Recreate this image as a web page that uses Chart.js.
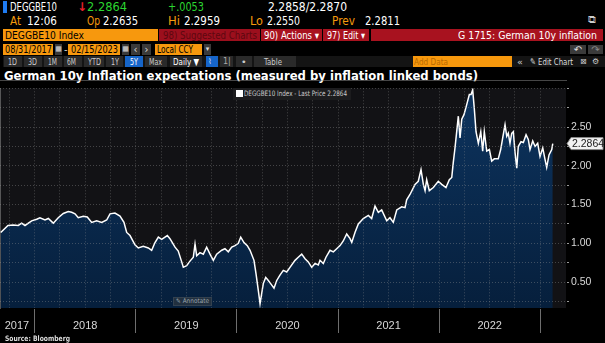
<!DOCTYPE html>
<html>
<head>
<meta charset="utf-8">
<title>DEGGBE10 Index</title>
<script src="https://cdn.jsdelivr.net/npm/chart.js@4.4.1/dist/chart.umd.min.js"></script>
<style>
  body { margin: 0; background: #000; }
  #page { position: relative; width: 605px; height: 343px; overflow: hidden; background: #000;
          font-family: "DejaVu Sans", sans-serif; color: #fff; }
  #page div, #page span { position: absolute; white-space: nowrap; }
  .fit { transform-origin: 0 50%; }
  .r1 { top: 1px; height: 12px; line-height: 12px; font-size: 12px; }
  .r2 { top: 15px; height: 12px; line-height: 12px; font-size: 12px; }
  .r3 { top: 29px; height: 12px; line-height: 12px; font-size: 10.5px; }
  .r4 { top: 44px; height: 11px; line-height: 11px; font-size: 10px; }
  .r5 { top: 56px; height: 11px; line-height: 11px; font-size: 9.5px; }
  .org { color: #f59a0c; }
  .grn { color: #2bd531; }
  .obox { background: #f7980d; color: #000; }
  .rbox { background: #a8121f; }
  .gbtn { background: #3a3a3a; color: #ddd; text-align: center; }
  .btn { background: #2a2a2a; }
  .blue { background: #1665c9; }
  #wrap { left: 0; top: 80px; width: 605px; height: 263px; }
</style>
</head>
<body>
<div id="page">
  <!-- quote line -->
  <div style="left:3px;top:1px;width:4px;height:12px;background:#1f7cf2"></div>
  <span class="r1 fit" data-w="47" style="left:10px">DEGGBE10</span>
  <span class="r1" style="left:77px;color:#e8202a;font-weight:bold">↓</span>
  <span class="r1 fit grn" data-w="40" style="left:87px" id="lastHdr"></span>
  <span class="r1 fit grn" data-w="36" style="left:168px">+.0053</span>
  <span class="r1 fit" data-w="79" style="left:268px">2.2858/2.2870</span>

  <span class="r2 fit org" data-w="11" style="left:10px">At</span>
  <span class="r2 fit" data-w="30" style="left:27px">12:06</span>
  <span class="r2 fit org" data-w="13" style="left:87px">Op</span>
  <span class="r2 fit" data-w="35" style="left:103px">2.2635</span>
  <span class="r2 fit org" data-w="12" style="left:168px">Hi</span>
  <span class="r2 fit" data-w="36" style="left:184px">2.2959</span>
  <span class="r2 fit org" data-w="13" style="left:250px">Lo</span>
  <span class="r2 fit" data-w="33" style="left:267px">2.2550</span>
  <span class="r2 fit org" data-w="23" style="left:332px">Prev</span>
  <span class="r2 fit" data-w="35" style="left:365px">2.2811</span>
  <span class="r2" style="left:588px;top:14px;font-size:11px;color:#ccc">⧉</span>

  <!-- security / menu line -->
  <div class="r3 obox" style="left:3px;width:155px"></div>
  <span class="r3 fit" data-w="79" style="left:5px;color:#000">DEGGBE10 Index</span>
  <div class="r3" style="left:159px;width:101px;background:#9c0f1d"></div>
  <span class="r3 fit" data-w="94" style="left:163px;color:#5c0810">98) Suggested Charts</span>
  <div class="r3 rbox" style="left:261px;width:61px"></div>
  <span class="r3 fit" data-w="55" style="left:264px">90) Actions ▾</span>
  <div class="r3 rbox" style="left:323px;width:46px"></div>
  <span class="r3 fit" data-w="38" style="left:327px">97) Edit ▾</span>
  <div class="r3 rbox" style="left:371px;width:232px"></div>
  <span class="r3 fit" data-w="139" style="left:458px">G 1715: German 10y inflation</span>

  <!-- date range line -->
  <div class="r4 obox" style="left:3px;width:50px"></div>
  <span class="r4 fit" data-w="47" style="left:5px;color:#000">08/31/2017</span>
  <div class="r4 gbtn" style="left:55px;width:7px;font-size:7px">▦</div>
  <span class="r4" style="left:64px;color:#ccc">-</span>
  <div class="r4 obox" style="left:68px;width:52px"></div>
  <span class="r4 fit" data-w="47" style="left:71px;color:#000">02/15/2023</span>
  <div class="r4 gbtn" style="left:122px;width:7px;font-size:7px">▦</div>
  <div class="r4 gbtn" style="left:131px;width:9px">‹</div>
  <div class="r4 gbtn" style="left:142px;width:9px">›</div>
  <div class="r4 obox" style="left:155px;width:47px"></div>
  <span class="r4 fit" data-w="36" style="left:157px;color:#000">Local CCY</span>
  <div class="r4 gbtn" style="left:204px;width:7px;font-size:7px">▾</div>
  <div class="r4 gbtn" style="left:570px;width:16px;top:45px;height:9px;line-height:9px">↶</div>
  <div class="r4 gbtn" style="left:588px;width:15px;top:45px;height:9px;line-height:9px;color:#888">↷</div>

  <!-- range buttons -->
  <div class="r5" style="left:3px;width:602px;background:#141414"></div>
  <div class="r5 btn" style="left:4px;width:18px"></div>
  <div class="r5 btn" style="left:24px;width:18px"></div>
  <div class="r5 btn" style="left:44px;width:18px"></div>
  <div class="r5 btn" style="left:64px;width:18px"></div>
  <div class="r5 btn" style="left:84px;width:20px"></div>
  <div class="r5 btn" style="left:106px;width:17px"></div>
  <div class="r5 blue" style="left:125px;width:18px"></div>
  <div class="r5 btn" style="left:145px;width:22px"></div>
  <div class="r5 btn" style="left:170px;width:32px"></div>
  <div class="r5 blue" style="left:206px;width:12px"></div>
  <div class="r5 btn" style="left:220px;width:13px"></div>
  <div class="r5 btn" style="left:236px;width:16px"></div>
  <div class="r5 btn" style="left:254px;width:42px"></div>
  <span class="r5 fit" data-w="9" style="left:8px;color:#ccc">1D</span>
  <span class="r5 fit" data-w="9" style="left:28px;color:#ccc">3D</span>
  <span class="r5 fit" data-w="9" style="left:48px;color:#ccc">1M</span>
  <span class="r5 fit" data-w="9" style="left:67px;color:#ccc">6M</span>
  <span class="r5 fit" data-w="13" style="left:88px;color:#ccc">YTD</span>
  <span class="r5 fit" data-w="8" style="left:111px;color:#ccc">1Y</span>
  <span class="r5 fit" data-w="8" style="left:130px">5Y</span>
  <span class="r5 fit" data-w="13" style="left:149px;color:#ccc">Max</span>
  <span class="r5 fit" data-w="26" style="left:173px">Daily ▼</span>
  <span class="r5" style="left:208px;font-size:8px;color:#cde">⌇</span>
  <span class="r5" style="left:223px;color:#aaa;font-size:8px">1|</span>
  <span class="r5" style="left:241px;color:#ccc">•</span>
  <span class="r5 fit" data-w="18" style="left:264px;color:#ccc">Table</span>
  <div class="r5 obox" style="left:413px;width:99px"></div>
  <span class="r5 fit" data-w="34" style="left:414px;color:#b76a00">Add Data</span>
  <span class="r5" style="left:517px;color:#ccc">«</span>
  <span class="r5 fit" data-w="43" style="left:530px;color:#ddd">✎ Edit Chart</span>
  <span class="r5" style="left:580px;color:#ccc;font-size:8px">⊠</span>
  <span class="r5" style="left:592px;color:#ccc;font-size:8px">⚙</span>

  <span class="fit" data-w="474" style="left:4px;top:69px;height:13px;line-height:13px;font-size:12.5px;font-weight:bold">German 10y Inflation expectations (measured by inflation linked bonds)</span>

  <div id="wrap"><canvas id="chart" width="605" height="263"></canvas></div>

  <!-- chart overlays -->
  <div style="left:233px;top:88px;width:118px;height:12px;background:#1c1c1e"></div>
  <div style="left:236px;top:90px;width:7px;height:7px;background:#fff"></div>
  <span class="fit" data-w="103" id="legendTxt" style="left:244px;top:88px;height:12px;line-height:12px;font-size:7.5px;color:#ccc"></span>
  <div style="left:173px;top:297px;width:39px;height:9px;background:#22303f;border:1px solid #33414f;box-sizing:border-box"></div>
  <span class="fit" data-w="33" style="left:176px;top:297px;height:9px;line-height:9px;font-size:6.5px;color:#9aa5b0">✎ Annotate</span>

  <span class="fit" data-w="65" style="left:5px;top:334px;height:9px;line-height:9px;font-size:7.5px;font-weight:bold;color:#ddd">Source: Bloomberg</span>
</div>

<script>
// DEGGBE10 daily close, sampled (decimal year -> %)
const dates = [
  2017.664, 2017.736, 2017.788, 2017.838, 2017.871, 2017.904, 2017.970, 2018.020, 2018.052, 2018.102,
  2018.135, 2018.184, 2018.233, 2018.283, 2018.332, 2018.366, 2018.399, 2018.431, 2018.481, 2018.520,
  2018.564, 2018.613, 2018.663, 2018.712, 2018.745, 2018.794, 2018.844, 2018.883, 2018.910, 2018.943,
  2018.992, 2019.025, 2019.074, 2019.124, 2019.157,
  2019.190, 2019.223, 2019.256, 2019.289, 2019.312, 2019.338, 2019.388, 2019.420, 2019.454, 2019.470,
  2019.503, 2019.536, 2019.569, 2019.586, 2019.602, 2019.635, 2019.668, 2019.701, 2019.734, 2019.767,
  2019.800, 2019.850, 2019.882, 2019.915, 2019.949, 2019.981, 2020.014, 2020.038, 2020.070, 2020.103,
  2020.130, 2020.169, 2020.189, 2020.212, 2020.229, 2020.245, 2020.261, 2020.285, 2020.311, 2020.334,
  2020.367, 2020.394, 2020.426, 2020.459, 2020.493, 2020.525, 2020.575, 2020.607, 2020.641,
  2020.674, 2020.706, 2020.740, 2020.773, 2020.805, 2020.822, 2020.855, 2020.881, 2020.921, 2020.954,
  2020.987, 2021.020, 2021.052, 2021.086, 2021.119, 2021.136, 2021.168, 2021.201, 2021.250, 2021.300,
  2021.333, 2021.366, 2021.399, 2021.432, 2021.482, 2021.514, 2021.547, 2021.581, 2021.630, 2021.663,
  2021.679, 2021.712, 2021.762, 2021.794, 2021.821, 2021.844, 2021.861, 2021.877, 2021.903, 2021.943,
  2021.992, 2022.026, 2022.068, 2022.101, 2022.125, 2022.140,
  2022.157, 2022.174, 2022.190, 2022.207, 2022.224, 2022.246, 2022.273, 2022.299, 2022.316, 2022.332,
  2022.348, 2022.365, 2022.388, 2022.412, 2022.431, 2022.447, 2022.471, 2022.497, 2022.520, 2022.546,
  2022.585, 2022.609, 2022.629, 2022.652, 2022.669, 2022.684, 2022.701, 2022.718, 2022.734, 2022.751,
  2022.768, 2022.783, 2022.810, 2022.833, 2022.860, 2022.882, 2022.899, 2022.926, 2022.949, 2022.975,
  2022.998, 2023.025, 2023.048, 2023.064, 2023.087, 2023.114, 2023.124
]
const breakeven = [
  1.14, 1.23, 1.235, 1.23, 1.26, 1.23, 1.29, 1.31, 1.33, 1.30,
  1.32, 1.26, 1.33, 1.385, 1.41, 1.40, 1.38, 1.33, 1.35, 1.34,
  1.27, 1.29, 1.27, 1.30, 1.38, 1.39, 1.35, 1.27, 1.14, 1.10,
  0.98, 0.94, 0.96, 0.94, 0.91,
  1.01, 1.08, 1.05, 1.08, 1.10, 1.06, 0.95, 0.90, 0.76, 0.69,
  0.71, 0.77, 0.82, 0.99, 0.84, 0.88, 0.86, 0.95, 0.86, 0.78,
  0.86, 0.91, 0.93, 0.89, 0.95, 0.97, 1.00, 1.08, 1.01, 0.97,
  0.91, 0.78, 0.61, 0.39, 0.22, 0.35, 0.48, 0.56, 0.52, 0.48,
  0.42, 0.52, 0.59, 0.65, 0.63, 0.69, 0.78, 0.82, 0.86,
  0.80, 0.76, 0.69, 0.74, 0.72, 0.78, 0.74, 0.82, 0.91, 0.89,
  0.93, 0.97, 1.03, 1.12, 1.06, 1.01, 1.14, 1.25, 1.32, 1.36,
  1.32, 1.48, 1.40, 1.43, 1.29, 1.33, 1.27, 1.43, 1.47, 1.46,
  1.56, 1.63, 1.76, 1.80, 1.95, 1.76, 1.68, 1.82, 1.68, 1.72,
  1.80, 1.76, 1.72, 1.82, 1.85, 2.04,
  2.23, 2.44, 2.64, 2.36, 2.60, 2.66, 2.79, 2.92, 2.92, 2.98,
  2.74, 2.44, 2.29, 2.44, 2.19, 2.44, 2.19, 2.21, 2.06, 2.09,
  2.09, 2.21, 2.36, 2.53, 2.38, 2.42, 2.29, 2.42, 2.44, 2.17,
  1.97, 2.25, 2.31, 2.30, 2.40, 2.34, 2.21, 2.32, 2.25, 2.29,
  2.12, 2.23, 2.08, 1.98, 2.14, 2.21, 2.2864
]
const lastPrice = breakeven[breakeven.length - 1]

// axis labels
const years = ['2017', '2018', '2019', '2020', '2021', '2022']
const yearLabelAt = [2017.825, 2018.5, 2019.5, 2020.5, 2021.5, 2022.5]
const yLabels = [0.5, 1.0, 1.5, 2.0, 2.5]

document.getElementById('lastHdr').textContent = lastPrice.toFixed(4)
document.getElementById('legendTxt').textContent = 'DEGGBE10 Index - Last Price ' + lastPrice.toFixed(4)

// squeeze header text into the terminal's narrow columns
document.querySelectorAll('.fit').forEach(el => {
    const w = el.getBoundingClientRect().width
    if (w > 0) el.style.transform = `scaleX(${el.dataset.w / w})`
})

// quarterly grid, plus a label-only tick for the stub of 2017
const xTicks = [2017.75, 2017.825]
for (let q = 1; q <= 21; q++) xTicks.push(2017.75 + q * 0.25)
const yTicks = []
for (let k = 1; k <= 12; k++) yTicks.push(k * 0.25)

const gridDots = 'rgba(150,150,150,0.38)'

const plotBg = {
    id: 'plotBg',
    beforeDraw(chart) {
        const { ctx, chartArea: a } = chart
        ctx.save()
        ctx.fillStyle = '#121215'
        ctx.fillRect(a.left, a.top, a.right - a.left, a.bottom - a.top)
        ctx.restore()
    }
}

// white "last price" flag on the right axis
const lastTag = {
    id: 'lastTag',
    afterDraw(chart) {
        const { ctx, chartArea: a } = chart
        const y = chart.scales.y.getPixelForValue(lastPrice)
        const x0 = a.right + 1
        ctx.save()
        ctx.beginPath()
        ctx.moveTo(x0, y)
        ctx.lineTo(x0 + 4, y - 6)
        ctx.lineTo(603, y - 6)
        ctx.lineTo(603, y + 6)
        ctx.lineTo(x0 + 4, y + 6)
        ctx.closePath()
        ctx.fillStyle = '#f2f2f2'
        ctx.fill()
        ctx.strokeStyle = '#8a8a8a'
        ctx.lineWidth = 1
        ctx.stroke()
        ctx.fillStyle = '#1a1a1a'
        ctx.font = '10.5px "Liberation Sans", sans-serif'
        ctx.textBaseline = 'middle'
        ctx.fillText(lastPrice.toFixed(4), x0 + 5, y + 0.5)
        ctx.restore()
    }
}

new Chart(document.getElementById('chart'), {
    type: 'line',
    data: {
        datasets: [{
            label: 'DEGGBE10 Index',
            data: dates.map((d, i) => ({ x: d, y: breakeven[i] })),
            borderColor: '#ffffff',
            borderWidth: 1.5,
            pointRadius: 0,
            tension: 0,
            fill: 'start',
            backgroundColor: ctx => {
                const a = ctx.chart.chartArea
                if (!a) return '#0a2c52'
                const g = ctx.chart.ctx.createLinearGradient(0, a.top, 0, a.bottom)
                g.addColorStop(0, '#0d345f')
                g.addColorStop(1, '#061f3c')
                return g
            }
        }]
    },
    options: {
        responsive: false,
        animation: false,
        devicePixelRatio: 1,
        layout: { padding: { top: 6, left: 0, right: 0, bottom: 0 } },
        plugins: { legend: { display: false }, tooltip: { enabled: false } },
        scales: {
            x: {
                type: 'linear',
                min: 2017.657,
                max: 2023.255,
                afterBuildTicks: s => { s.ticks = xTicks.map(v => ({ value: v })) },
                afterFit: s => { s.height = 35 },
                grid: {
                    z: 1,
                    color: c => (c.tick && c.tick.value === 2017.825) ? 'transparent' : gridDots,
                    tickColor: c => (c.tick && Number.isInteger(c.tick.value)) ? '#6e6e6e' : 'transparent',
                    tickLength: 25
                },
                border: { color: '#8c8c8c', dash: [1, 2] },
                ticks: {
                    autoSkip: false,
                    maxRotation: 0,
                    padding: -14,
                    color: '#d8d8d8',
                    font: { family: '"Liberation Sans", sans-serif', size: 11 },
                    callback: v => {
                        const i = yearLabelAt.indexOf(v)
                        return i >= 0 ? years[i] : ''
                    }
                }
            },
            y: {
                position: 'right',
                min: 0.165,
                max: 3.0,
                afterBuildTicks: s => { s.ticks = yTicks.map(v => ({ value: v })) },
                afterFit: s => { s.width = 39 },
                grid: { z: 1, color: gridDots, tickColor: '#9a9a9a', tickLength: 3 },
                border: { color: '#9a9a9a', dash: [1, 2] },
                ticks: {
                    padding: 2,
                    color: '#d8d8d8',
                    font: { family: '"Liberation Sans", sans-serif', size: 10.5 },
                    callback: v => yLabels.includes(v) ? v.toFixed(2) : ''
                }
            }
        }
    },
    plugins: [plotBg, lastTag]
})
</script>
</body>
</html>
